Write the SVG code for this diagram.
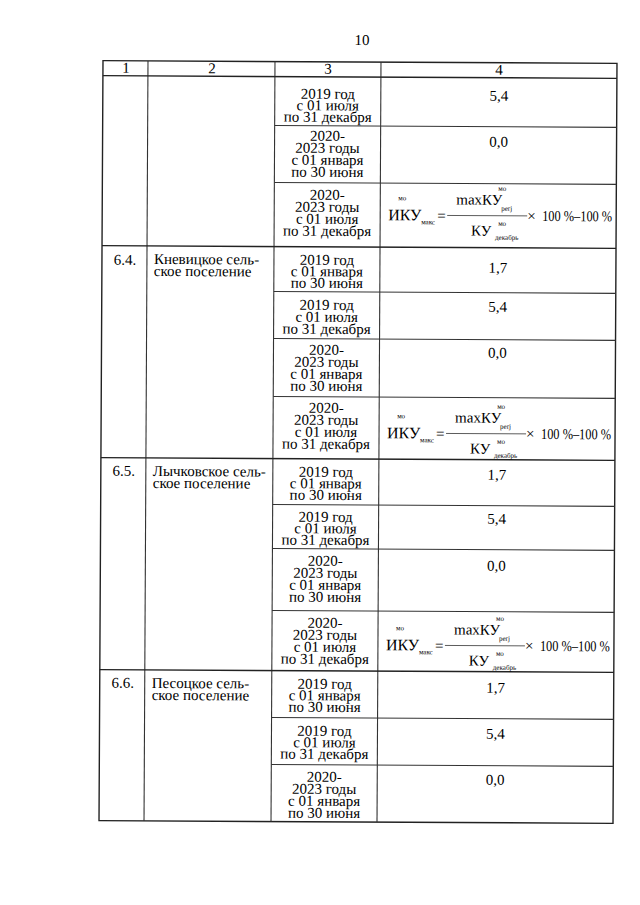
<svg xmlns="http://www.w3.org/2000/svg" width="640" height="905" viewBox="0 0 640 905">
<style>
text{font-family:"Liberation Serif","Times New Roman",serif;fill:#000}
.t{font-size:15px}
.c{text-anchor:middle}
.s{font-size:7px}
.f{font-size:16px}
.g{stroke:#333;stroke-width:1.1;fill:none}
.o{stroke:#222;stroke-width:1.4;fill:none}
.fl{stroke:#333;stroke-width:0.8}
</style>
<defs>
<g id="formula">
<text class="f" x="387" y="39">ИКУ</text>
<text class="s" x="397" y="19">мо</text>
<text class="s" x="420" y="43">макс</text>
<text class="t" x="436" y="39">=</text>
<text class="t" x="455" y="23">maxКУ</text>
<text class="s" x="497" y="9">мо</text>
<text class="s" x="500" y="29">perj</text>
<line class="fl" x1="446" y1="34" x2="526" y2="34"/>
<text class="t" x="526" y="39">×</text>
<text class="t" x="470" y="54">КУ</text>
<text class="s" x="497" y="44">мо</text>
<text class="s" x="494" y="58">декабрь</text>
<text class="t" x="541" y="39" textLength="70" lengthAdjust="spacingAndGlyphs">100 %–100 %</text>
</g>
</defs>
<g transform="rotate(0.3 359 442)">
<text id="page-number" class="t c" x="360" y="45">10</text>
<g id="grid">
<rect class="o" x="101" y="62" width="514" height="760"/>
<line class="g" x1="146" y1="62" x2="146" y2="822"/>
<line class="g" x1="273" y1="62" x2="273" y2="822"/>
<line class="g" x1="379" y1="62" x2="379" y2="822"/>
<line class="o" x1="101" y1="77" x2="615" y2="77"/>
<line class="g" x1="273" y1="126" x2="615" y2="126"/>
<line class="g" x1="273" y1="183" x2="615" y2="183"/>
<line class="o" x1="101" y1="247" x2="615" y2="247"/>
<line class="g" x1="273" y1="292" x2="615" y2="292"/>
<line class="g" x1="273" y1="339" x2="615" y2="339"/>
<line class="g" x1="273" y1="397" x2="615" y2="397"/>
<line class="o" x1="101" y1="459" x2="615" y2="459"/>
<line class="g" x1="273" y1="505" x2="615" y2="505"/>
<line class="g" x1="273" y1="549" x2="615" y2="549"/>
<line class="g" x1="273" y1="611" x2="615" y2="611"/>
<line class="o" x1="101" y1="671" x2="615" y2="671"/>
<line class="g" x1="273" y1="718" x2="615" y2="718"/>
<line class="g" x1="273" y1="765" x2="615" y2="765"/>
</g>
<g id="header">
<text class="t c" x="124" y="74">1</text>
<text class="t c" x="210" y="74">2</text>
<text class="t c" x="326" y="74">3</text>
<text class="t c" x="497" y="74">4</text>
</g>
<g id="row-cont">
<text class="t c" x="326"><tspan x="326" y="99">2019 год</tspan><tspan x="326" y="110.5">с 01 июля</tspan><tspan x="326" y="122">по 31 декабря</tspan></text>
<text class="t c" x="497" y="100">5,4</text>
<text class="t c" x="326"><tspan x="326" y="141">2020-</tspan><tspan x="326" y="153">2023 годы</tspan><tspan x="326" y="165">с 01 января</tspan><tspan x="326" y="177">по 30 июня</tspan></text>
<text class="t c" x="497" y="146">0,0</text>
<text class="t c" x="326"><tspan x="326" y="200">2020-</tspan><tspan x="326" y="212">2023 годы</tspan><tspan x="326" y="224">с 01 июля</tspan><tspan x="326" y="236">по 31 декабря</tspan></text>
<use href="#formula" transform="translate(0,181)"/>
</g>
<g id="row-6-4">
<text class="t c" x="124" y="266">6.4.</text>
<text class="t" x="153"><tspan x="153" y="265">Кневицкое сель-</tspan><tspan x="153" y="277">ское поселение</tspan></text>
<text class="t c" x="326"><tspan x="326" y="265">2019 год</tspan><tspan x="326" y="276.5">с 01 января</tspan><tspan x="326" y="288">по 30 июня</tspan></text>
<text class="t c" x="497" y="272">1,7</text>
<text class="t c" x="326"><tspan x="326" y="310">2019 год</tspan><tspan x="326" y="322">с 01 июля</tspan><tspan x="326" y="334">по 31 декабря</tspan></text>
<text class="t c" x="497" y="311">5,4</text>
<text class="t c" x="326"><tspan x="326" y="355">2020-</tspan><tspan x="326" y="367">2023 годы</tspan><tspan x="326" y="379">с 01 января</tspan><tspan x="326" y="391">по 30 июня</tspan></text>
<text class="t c" x="497" y="357">0,0</text>
<text class="t c" x="326"><tspan x="326" y="413">2020-</tspan><tspan x="326" y="425">2023 годы</tspan><tspan x="326" y="437">с 01 июля</tspan><tspan x="326" y="449">по 31 декабря</tspan></text>
<use href="#formula" transform="translate(0,399)"/>
</g>
<g id="row-6-5">
<text class="t c" x="124" y="477">6.5.</text>
<text class="t" x="153"><tspan x="153" y="477">Лычковское сель-</tspan><tspan x="153" y="489">ское поселение</tspan></text>
<text class="t c" x="326"><tspan x="326" y="477">2019 год</tspan><tspan x="326" y="488.5">с 01 января</tspan><tspan x="326" y="500">по 30 июня</tspan></text>
<text class="t c" x="497" y="479">1,7</text>
<text class="t c" x="326"><tspan x="326" y="522">2019 год</tspan><tspan x="326" y="533.5">с 01 июля</tspan><tspan x="326" y="545">по 31 декабря</tspan></text>
<text class="t c" x="497" y="523">5,4</text>
<text class="t c" x="326"><tspan x="326" y="566">2020-</tspan><tspan x="326" y="578">2023 годы</tspan><tspan x="326" y="590">с 01 января</tspan><tspan x="326" y="602">по 30 июня</tspan></text>
<text class="t c" x="497" y="570">0,0</text>
<text class="t c" x="326"><tspan x="326" y="628">2020-</tspan><tspan x="326" y="640">2023 годы</tspan><tspan x="326" y="652">с 01 июля</tspan><tspan x="326" y="664">по 31 декабря</tspan></text>
<use href="#formula" transform="translate(0,611)"/>
</g>
<g id="row-6-6">
<text class="t c" x="124" y="689">6.6.</text>
<text class="t" x="153"><tspan x="153" y="689">Песоцкое сель-</tspan><tspan x="153" y="701">ское поселение</tspan></text>
<text class="t c" x="326"><tspan x="326" y="689">2019 год</tspan><tspan x="326" y="700.5">с 01 января</tspan><tspan x="326" y="712">по 30 июня</tspan></text>
<text class="t c" x="497" y="692">1,7</text>
<text class="t c" x="326"><tspan x="326" y="736">2019 год</tspan><tspan x="326" y="747.5">с 01 июля</tspan><tspan x="326" y="759">по 31 декабря</tspan></text>
<text class="t c" x="497" y="738">5,4</text>
<text class="t c" x="326"><tspan x="326" y="782">2020-</tspan><tspan x="326" y="794">2023 годы</tspan><tspan x="326" y="806">с 01 января</tspan><tspan x="326" y="818">по 30 июня</tspan></text>
<text class="t c" x="497" y="784">0,0</text>
</g>
</g>
</svg>
